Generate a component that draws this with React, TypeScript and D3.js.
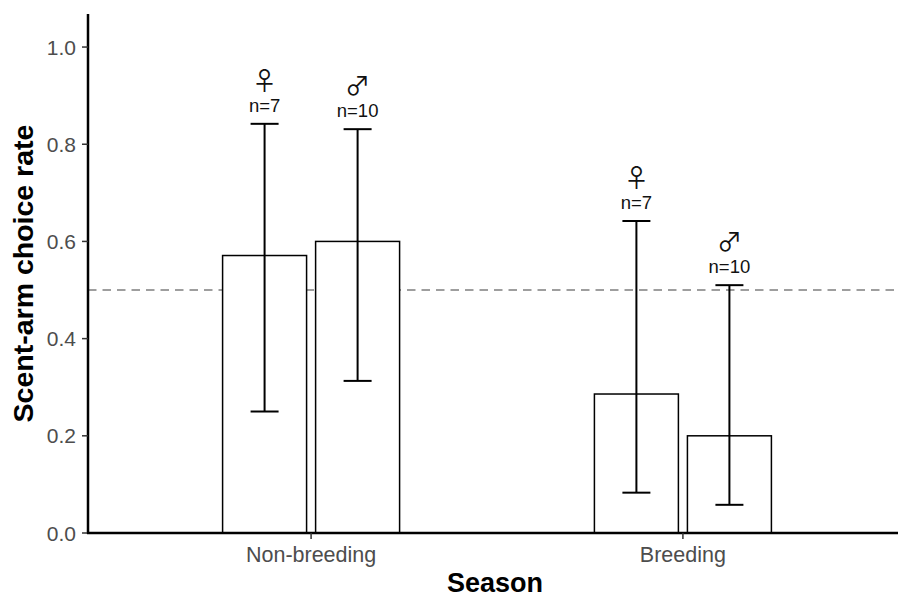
import React from "react";
import { scaleLinear, scalePoint, scaleBand } from "d3";

const seasons = ["Non-breeding", "Breeding"];
const sexes = ["female", "male"];
const sexSymbols = ["\u2640", "\u2642"];
const choiceRate = [
  [0.571, 0.6],
  [0.286, 0.2],
];
const ciLow = [
  [0.25, 0.313],
  [0.083, 0.058],
];
const ciHigh = [
  [0.842, 0.831],
  [0.642, 0.51],
];
const sampleSize = [
  [7, 10],
  [7, 10],
];
const yTicks = [0, 0.2, 0.4, 0.6, 0.8, 1.0];
const chanceLevel = 0.5;

const W = 898;
const H = 598;
const left = 88;
const top = 14;
const bottom = 533;

export default function App() {
  const y = scaleLinear().domain([0, 1.068]).range([bottom, top]);
  const x = scalePoint().domain(seasons).range([left, 906]).padding(0.6);
  const dodge = scaleBand().domain(sexes).range([-88.5, 88.5]).paddingInner(0.097);
  const bw = dodge.bandwidth();
  const capHalf = 14;
  const font = "'Liberation Sans', Arial, Helvetica, sans-serif";

  return (
    <svg
      width={W}
      height={H}
      style={{ position: "absolute", left: 0, top: 0, background: "#fff" }}
      fontFamily={font}
    >
      {/* chance line */}
      <line
        x1={left}
        x2={W}
        y1={y(chanceLevel)}
        y2={y(chanceLevel)}
        stroke="#7f7f7f"
        strokeWidth={1.5}
        strokeDasharray="8.5 6"
      />

      {seasons.map((s, i) => (
        <g key={s}>
          {sexes.map((sx, j) => {
            const cx = (x(s) as number) + (dodge(sx) as number) + bw / 2;
            const hi = y(ciHigh[i][j]);
            const lo = y(ciLow[i][j]);
            return (
              <g key={sx}>
                <rect
                  x={cx - bw / 2}
                  y={y(choiceRate[i][j])}
                  width={bw}
                  height={y(0) - y(choiceRate[i][j])}
                  fill="#fff"
                  stroke="#000"
                  strokeWidth={1.5}
                />
                <line x1={cx} x2={cx} y1={hi} y2={lo} stroke="#000" strokeWidth={2} />
                <line x1={cx - capHalf} x2={cx + capHalf} y1={hi} y2={hi} stroke="#000" strokeWidth={2} />
                <line x1={cx - capHalf} x2={cx + capHalf} y1={lo} y2={lo} stroke="#000" strokeWidth={2} />
                <text
                  x={cx}
                  y={hi - 12}
                  textAnchor="middle"
                  fontSize={18.5}
                  fill="#111"
                >
                  n={sampleSize[i][j]}
                </text>
                <text
                  x={cx}
                  y={hi - 34}
                  textAnchor="middle"
                  fontSize={25}
                  fontFamily="'Noto Sans CJK JP', 'DejaVu Sans', sans-serif"
                  fill="#111"
                >
                  {sexSymbols[j]}
                </text>
              </g>
            );
          })}
        </g>
      ))}

      {/* y axis */}
      <line x1={left} x2={left} y1={top} y2={bottom + 1} stroke="#000" strokeWidth={2.5} />
      {yTicks.map((t) => (
        <g key={t}>
          <line x1={left - 6} x2={left} y1={y(t)} y2={y(t)} stroke="#333" strokeWidth={1.5} />
          <text
            x={left - 12}
            y={y(t)}
            dy="0.36em"
            textAnchor="end"
            fontSize={21}
            fill="#4d4d4d"
          >
            {t.toFixed(1)}
          </text>
        </g>
      ))}

      {/* x axis */}
      <line x1={left - 1} x2={W} y1={bottom} y2={bottom} stroke="#000" strokeWidth={2.5} />
      {seasons.map((s) => (
        <g key={s}>
          <line x1={x(s)} x2={x(s)} y1={bottom} y2={bottom + 6} stroke="#333" strokeWidth={1.5} />
          <text x={x(s)} y={562} textAnchor="middle" fontSize={21.5} fill="#4d4d4d">
            {s}
          </text>
        </g>
      ))}

      <text x={(left + W) / 2 + 2} y={592} textAnchor="middle" fontSize={27} fontWeight="bold">
        Season
      </text>
      <text
        transform={`translate(33, ${(top + bottom) / 2}) rotate(-90)`}
        textAnchor="middle"
        fontSize={28.5}
        fontWeight="bold"
      >
        Scent-arm choice rate
      </text>
    </svg>
  );
}
